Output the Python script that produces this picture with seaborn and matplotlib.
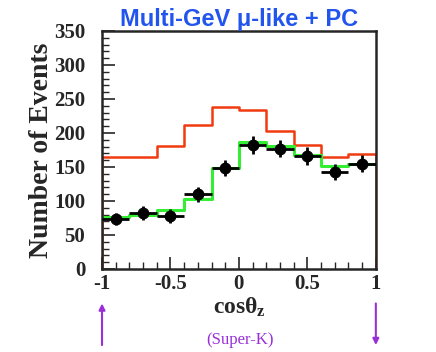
import numpy as np
import pandas as pd
import matplotlib
matplotlib.use("Agg")
import matplotlib.pyplot as plt
from matplotlib.ticker import MultipleLocator
import seaborn as sns

# cos(theta_z) binning: 10 bins from -1 to 1
bin_edges = np.linspace(-1, 1, 11)
bin_centers = (bin_edges[:-1] + bin_edges[1:]) / 2

# no-oscillation MC (red), best-fit oscillation MC (green), data (black)
no_osc = [164, 165, 181, 212, 238, 234, 203, 182, 164, 169]
best_fit = [77, 80, 87, 103, 148, 186, 181, 168, 151, 155]
data_counts = [73, 82, 78, 110, 148, 182, 177, 166, 143, 155]
data_err = [9, 10, 10, 11, 12, 13, 13, 13, 12, 13]

df = pd.DataFrame({"cosz": bin_centers, "no_osc": no_osc,
                   "best_fit": best_fit, "data": data_counts, "err": data_err})

sns.set_style("ticks")
serif = ["Liberation Serif", "DejaVu Serif"]
plt.rcParams["mathtext.fontset"] = "custom"
plt.rcParams["mathtext.rm"] = "Liberation Serif:bold"
plt.rcParams["mathtext.it"] = "Liberation Serif:bold"

fig = plt.figure(figsize=(4.36, 3.52), dpi=100)
ax = fig.add_axes([0.234, 0.236, 0.628, 0.676])

red = "#f03a10"
green = "#33ee33"

sns.histplot(data=df, x="cosz", weights="no_osc", binwidth=0.2, binrange=(-1, 1),
             element="step", fill=False, color=red, linewidth=1.8, ax=ax)
ax.vlines([bin_edges[0], bin_edges[-1]], 0, [no_osc[0], no_osc[-1]], color=red, linewidth=1.8)
sns.histplot(data=df, x="cosz", weights="best_fit", binwidth=0.2, binrange=(-1, 1),
             element="step", fill=False, color=green, linewidth=2.2, ax=ax)
ax.errorbar(df["cosz"], df["data"], xerr=0.1, yerr=df["err"], fmt="o", color="black",
            markersize=7.5, elinewidth=2, capsize=0, zorder=5)

ax.set_xlim(-1, 1)
ax.set_ylim(0, 350)
ax.xaxis.set_major_locator(MultipleLocator(0.5))
ax.xaxis.set_minor_locator(MultipleLocator(0.1))
ax.yaxis.set_major_locator(MultipleLocator(50))
ax.yaxis.set_minor_locator(MultipleLocator(10))
ax.xaxis.set_major_formatter(plt.FuncFormatter(lambda v, p: "0" if abs(v) < 1e-9 else f"{v:g}"))
ax.tick_params(which="major", direction="in", length=9, width=1.2, top=False, right=False)
ax.tick_params(axis="y", which="major", pad=12)
ax.tick_params(axis="x", which="major", pad=4)
ax.tick_params(which="minor", direction="in", length=5, width=1, top=False, right=False)
for s in ax.spines.values():
    s.set_linewidth(1.8)
    s.set_visible(True)

for lab in ax.get_xticklabels() + ax.get_yticklabels():
    lab.set_family(serif)
    lab.set_fontweight("bold")
    lab.set_fontsize(15)

ax.set_ylabel("Number of Events", family=serif, fontweight="bold", fontsize=20, labelpad=0)
ax.set_xlabel(r"cos$\theta_z$", family=serif, fontweight="bold", fontsize=17, labelpad=1)
ax.set_title("Multi-GeV \u03bc-like + PC", family=["Liberation Sans", "DejaVu Sans"],
             fontweight="bold", fontsize=17, color="#2255ee", pad=0)

purple = "#9a2fd8"
fig.text(0.55, 0.035, "(Super-K)", family=serif, fontsize=12, color=purple, ha="center", va="center")
ax.annotate("", xy=(-1, -0.145), xytext=(-1, -0.32), xycoords=("data", "axes fraction"),
            textcoords=("data", "axes fraction"), annotation_clip=False,
            arrowprops=dict(arrowstyle="-|>", color=purple, lw=1.5, mutation_scale=9,
                            shrinkA=0, shrinkB=0))
ax.annotate("", xy=(1, -0.32), xytext=(1, -0.145), xycoords=("data", "axes fraction"),
            textcoords=("data", "axes fraction"), annotation_clip=False,
            arrowprops=dict(arrowstyle="-|>", color=purple, lw=1.5, mutation_scale=9,
                            shrinkA=0, shrinkB=0))

fig.savefig("out.png", dpi=100)
